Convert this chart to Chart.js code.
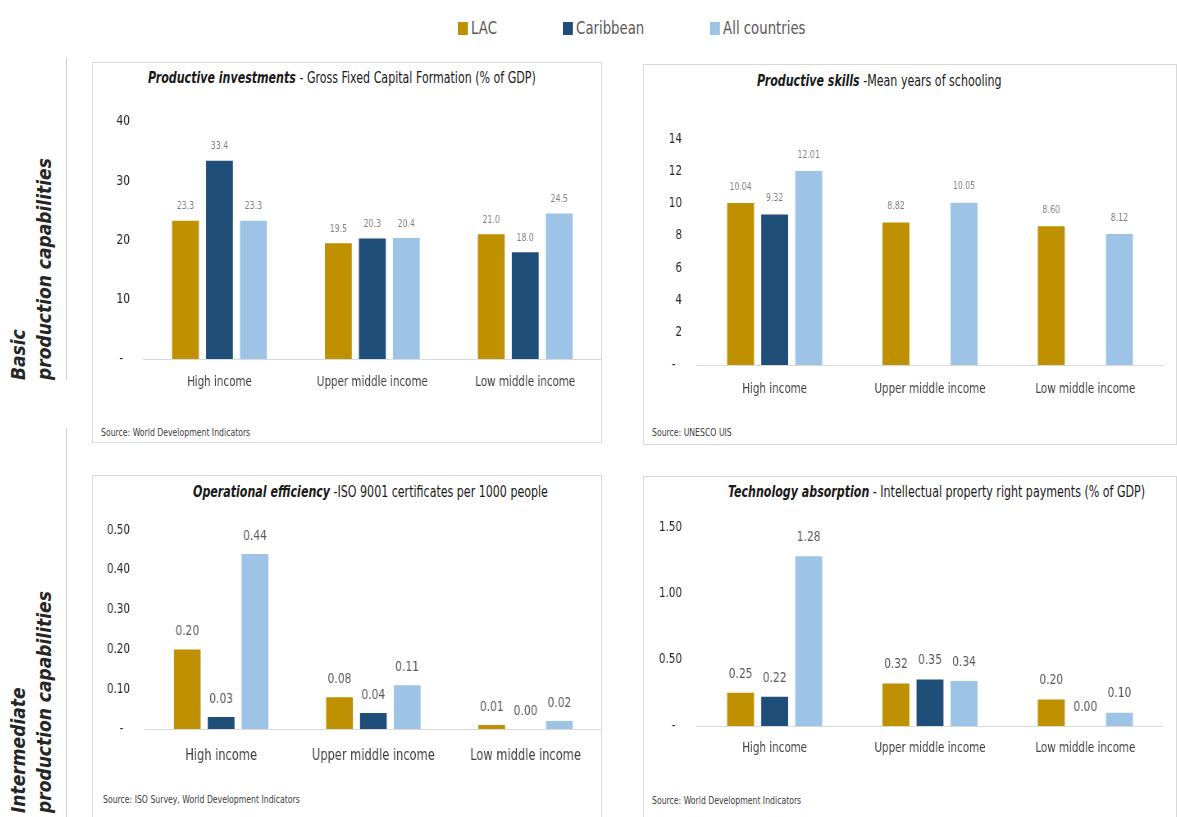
<!DOCTYPE html>
<html>
<head>
<meta charset="utf-8">
<script src="https://cdn.jsdelivr.net/npm/chart.js@4.4.1/dist/chart.umd.min.js"></script>
<style>
  body { margin: 0; background: #fff; width: 1177px; height: 817px; position: relative; overflow: hidden;
         font-family: 'Liberation Sans Narrow', 'DejaVu Sans Condensed', sans-serif; }
  .panel { position: absolute; border: 1px solid #d9d9d9; box-sizing: border-box; }
  /* condensed look for every label */
  .narrow { position: absolute; transform: scaleX(0.82); transform-origin: 0 0; white-space: nowrap; }
  .title { font-size: 15px; color: #1a1a1a; }
  .title b { font-style: italic; }
  .src { font-size: 10.5px; color: #404040; }
  .legend { top: 17px; font-size: 18px; color: #595959; }
  .legend i { display: inline-block; width: 12px; height: 13px; margin-right: 4px; vertical-align: -1px; }
  .side { position: absolute; font-size: 19px; font-weight: bold; font-style: italic; color: #262626;
          transform: rotate(-90deg); transform-origin: left top; white-space: nowrap; line-height: 26px; }
  .vline { position: absolute; width: 1px; background: #d0d0d0; }
</style>
</head>
<body>

<div class="narrow legend" style="left:458px"><i style="background:#BF9000"></i>LAC</div>
<div class="narrow legend" style="left:563px"><i style="background:#1F4E79"></i>Caribbean</div>
<div class="narrow legend" style="left:710px"><i style="background:#9DC3E6"></i>All countries</div>

<div class="side" style="left:5px; top:380px">Basic<br>production capabilities</div>
<div class="vline" style="left:66px; top:58px; height:322px"></div>
<div class="side" style="left:5px; top:813px">Intermediate<br>production capabilities</div>
<div class="vline" style="left:66px; top:428px; height:389px"></div>

<div class="panel" style="left:92px; top:62px; width:510px; height:381px"></div>
<div class="panel" style="left:643px; top:64px; width:534px; height:381px"></div>
<div class="panel" style="left:92px; top:475px; width:510px; height:350px"></div>
<div class="panel" style="left:643px; top:476px; width:534px; height:350px"></div>

<div class="narrow title" style="left:148px; top:69px"><b>Productive investments</b> - Gross Fixed Capital Formation (% of GDP)</div>
<div class="narrow title" style="left:757px; top:72px"><b>Productive skills</b> -Mean years of schooling</div>
<div class="narrow title" style="left:193px; top:483px"><b>Operational efficiency</b> -ISO 9001 certificates per 1000 people</div>
<div class="narrow title" style="left:728px; top:483px"><b>Technology absorption</b> - Intellectual property right payments (% of GDP)</div>

<div class="narrow src" style="left:101px; top:426px">Source: World Development Indicators</div>
<div class="narrow src" style="left:652px; top:426px">Source: UNESCO UIS</div>
<div class="narrow src" style="left:103px; top:793px">Source: ISO Survey, World Development Indicators</div>
<div class="narrow src" style="left:652px; top:794px">Source: World Development Indicators</div>

<div class="narrow" style="left:92px; top:97px"><canvas id="invest"></canvas></div>
<div class="narrow" style="left:643px; top:110px"><canvas id="skills"></canvas></div>
<div class="narrow" style="left:92px; top:500px"><canvas id="iso"></canvas></div>
<div class="narrow" style="left:643px; top:500px"><canvas id="tech"></canvas></div>

<script>
// income groups and series names
const categories = ['High income', 'Upper middle income', 'Low middle income'];
const seriesNames = ['LAC', 'Caribbean', 'All countries'];
const seriesColors = ['#BF9000', '#1F4E79', '#9DC3E6'];

// Gross fixed capital formation (% of GDP)
const investLAC = [23.3, 19.5, 21.0];
const investCaribbean = [33.4, 20.3, 18.0];
const investAll = [23.3, 20.4, 24.5];

// Mean years of schooling (no Caribbean figure for middle income groups)
const skillsLAC = [10.04, 8.82, 8.60];
const skillsCaribbean = [9.32, null, null];
const skillsAll = [12.01, 10.05, 8.12];

// ISO 9001 certificates per 1000 people
const isoLAC = [0.20, 0.08, 0.01];
const isoCaribbean = [0.03, 0.04, 0.00];
const isoAll = [0.44, 0.11, 0.02];

// Intellectual property right payments (% of GDP)
const techLAC = [0.25, 0.32, 0.20];
const techCaribbean = [0.22, 0.35, 0.00];
const techAll = [1.28, 0.34, 0.10];

// y axis tick values
const investTicks = [0, 10, 20, 30, 40];
const skillsTicks = [0, 2, 4, 6, 8, 10, 12, 14];
const isoTicks = [0, 0.1, 0.2, 0.3, 0.4, 0.5];
const techTicks = [0, 0.5, 1.0, 1.5];

// the canvases sit in a div squeezed horizontally by this factor
const SQUEEZE = 0.82;

Chart.defaults.font.family = "'Liberation Sans Narrow', 'DejaVu Sans Condensed', sans-serif";
Chart.defaults.animation = false;

// writes the value above every bar
const valueLabels = {
  id: 'valueLabels',
  afterDatasetsDraw(chart, args, opts) {
    const ctx = chart.ctx;
    ctx.save();
    ctx.font = opts.size + 'px ' + Chart.defaults.font.family;
    ctx.fillStyle = opts.color;
    ctx.textAlign = 'center';
    ctx.textBaseline = 'middle';
    chart.data.datasets.forEach((ds, i) => {
      chart.getDatasetMeta(i).data.forEach((bar, j) => {
        const v = ds.data[j];
        if (v === null || v === undefined) return;
        ctx.fillText(v.toFixed(opts.decimals), bar.x, bar.y - opts.offset);
      });
    });
    ctx.restore();
  }
};

// widths below are given in page pixels and converted to canvas pixels
function makeChart(id, values, ticks, o) {
  const canvas = document.getElementById(id);
  canvas.width = Math.round(o.width / SQUEEZE);
  canvas.height = o.height;
  const datasets = values.map((data, i) => ({
    label: seriesNames[i],
    data: data,
    backgroundColor: seriesColors[i],
    categoryPercentage: o.catPct,
    barPercentage: 0.79
  }));
  return new Chart(canvas, {
    type: 'bar',
    data: { labels: categories, datasets: datasets },
    plugins: [valueLabels],
    options: {
      responsive: false,
      layout: { padding: { top: o.padTop, right: o.padRight / SQUEEZE, left: 0, bottom: 0 } },
      plugins: {
        legend: { display: false },
        tooltip: { enabled: false },
        valueLabels: { size: o.labelSize, color: o.labelColor, offset: o.labelOffset, decimals: o.decimals }
      },
      scales: {
        x: {
          grid: { display: false, drawTicks: false },
          border: { display: true, color: '#d9d9d9', width: 1 },
          ticks: { color: '#404040', font: { size: o.catSize }, padding: o.xPad },
          afterFit: s => { s.height = o.xHeight; }
        },
        y: {
          min: 0,
          max: ticks[ticks.length - 1],
          grid: { display: false, drawTicks: false },
          border: { display: false },
          afterBuildTicks: s => { s.ticks = ticks.map(v => ({ value: v })); },
          ticks: {
            color: '#262626',
            font: { size: o.tickSize },
            padding: o.yPad / SQUEEZE,
            callback: v => v === 0 ? '-  ' : (o.tickDecimals ? v.toFixed(o.tickDecimals) : v)
          },
          afterFit: s => { s.width = o.yWidth / SQUEEZE; }
        }
      }
    }
  });
}

makeChart('invest', [investLAC, investCaribbean, investAll], investTicks, {
  width: 512, height: 303,
  catPct: 0.667, padTop: 16, padRight: 2, xHeight: 41, xPad: 15, yWidth: 51, yPad: 13,
  catSize: 14, tickSize: 14.5, tickDecimals: 0, labelSize: 10.5, labelColor: '#7f7f7f', labelOffset: 14, decimals: 1
});

makeChart('skills', [skillsLAC, skillsCaribbean, skillsAll], skillsTicks, {
  width: 533, height: 300,
  catPct: 0.658, padTop: 29, padRight: 13, xHeight: 45, xPad: 16, yWidth: 54, yPad: 15,
  catSize: 14, tickSize: 14, tickDecimals: 0, labelSize: 10.5, labelColor: '#7f7f7f', labelOffset: 16, decimals: 2
});

makeChart('iso', [isoLAC, isoCaribbean, isoAll], isoTicks, {
  width: 512, height: 270,
  catPct: 0.667, padTop: 30, padRight: 2, xHeight: 41, xPad: 18, yWidth: 53, yPad: 15,
  catSize: 15.5, tickSize: 14, tickDecimals: 2, labelSize: 14.5, labelColor: '#595959', labelOffset: 18, decimals: 2
});

makeChart('tech', [techLAC, techCaribbean, techAll], techTicks, {
  width: 533, height: 270,
  catPct: 0.658, padTop: 27, padRight: 13, xHeight: 44, xPad: 14, yWidth: 54, yPad: 15,
  catSize: 14, tickSize: 14, tickDecimals: 2, labelSize: 14.5, labelColor: '#595959', labelOffset: 19, decimals: 2
});
</script>
</body>
</html>
